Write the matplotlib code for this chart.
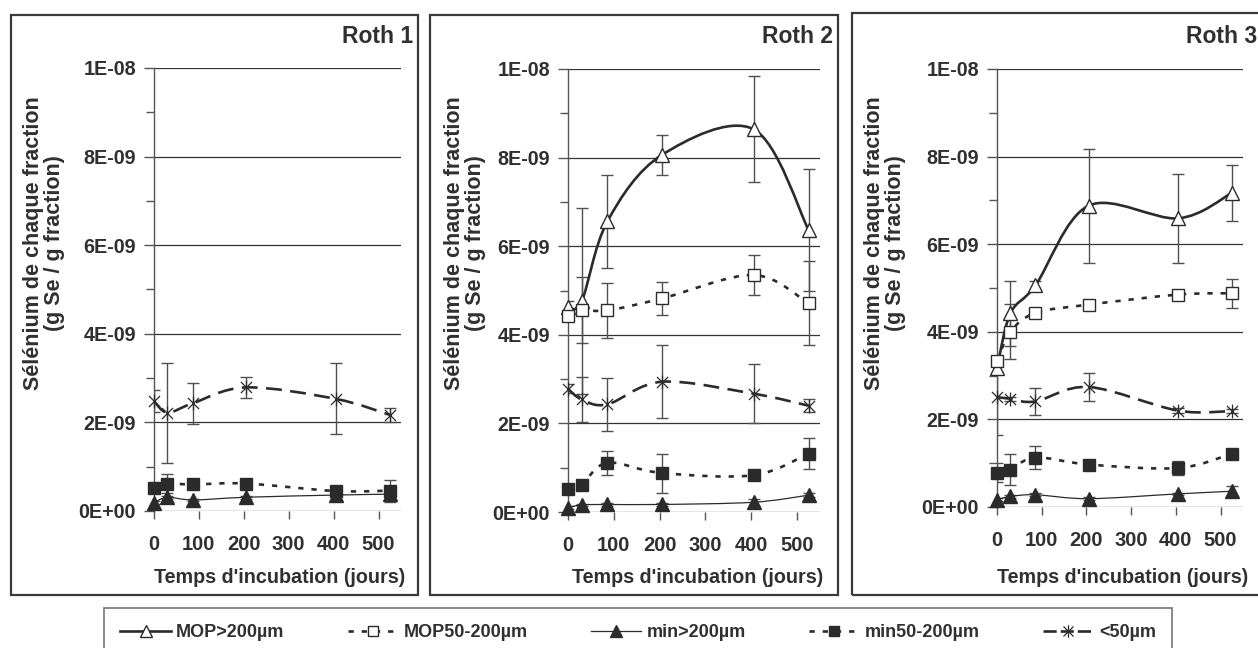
import numpy as np
import matplotlib
matplotlib.use("Agg")
import matplotlib.pyplot as plt
from matplotlib.path import Path
from matplotlib.patches import PathPatch, Rectangle
from matplotlib.lines import Line2D
from matplotlib.ticker import FixedLocator, FuncFormatter

plt.rcParams['font.family'] = ['Liberation Sans', 'DejaVu Sans']
plt.rcParams['font.weight'] = 'bold'

# ---------------- data (values in units of 1E-09 g Se / g fraction) ----------------
days = [0, 30, 86, 205, 405, 525]
panel_titles = ["Roth 1", "Roth 2", "Roth 3"]
series_names = ["MOP>200µm", "MOP50-200µm", "min>200µm", "min50-200µm", "<50µm"]
xtick_values = [0, 100, 200, 300, 400, 500]
ytick_values = [0, 2, 4, 6, 8, 10]

# Roth 1
r1_mop_gt200 = None
r1_mop_50_200 = None
r1_min_gt200 = [0.19, 0.31, 0.25, 0.31, 0.36, 0.38]
r1_min_gt200_err = [0.03, 0.03, 0.03, 0.03, 0.05, 0.05]
r1_min_50_200 = [0.53, 0.62, 0.60, 0.62, 0.45, 0.46]
r1_min_50_200_err = [0.05, 0.22, 0.05, 0.05, 0.05, 0.25]
r1_lt50 = [2.48, 2.22, 2.43, 2.79, 2.53, 2.17]
r1_lt50_err = [0.25, 1.13, 0.47, 0.23, 0.80, 0.15]

# Roth 2
r2_mop_gt200 = [4.62, 4.76, 6.56, 8.06, 8.64, 6.37]
r2_mop_gt200_err = [0.15, 2.10, 1.05, 0.46, 1.20, 1.38]
r2_mop_50_200 = [4.43, 4.56, 4.55, 4.82, 5.35, 4.71]
r2_mop_50_200_err = [0.10, 0.75, 0.63, 0.38, 0.45, 0.95]
r2_min_gt200 = [0.10, 0.16, 0.17, 0.17, 0.22, 0.38]
r2_min_gt200_err = [0.03, 0.03, 0.03, 0.03, 0.08, 0.05]
r2_min_50_200 = [0.52, 0.62, 1.11, 0.88, 0.83, 1.32]
r2_min_50_200_err = [0.05, 0.05, 0.27, 0.44, 0.05, 0.36]
r2_lt50 = [2.78, 2.54, 2.43, 2.94, 2.67, 2.40]
r2_lt50_err = [0.10, 0.50, 0.60, 0.82, 0.67, 0.15]

# Roth 3
r3_mop_gt200 = [3.18, 4.42, 5.06, 6.88, 6.59, 7.17]
r3_mop_gt200_err = [0.10, 0.74, 0.10, 1.30, 1.02, 0.63]
r3_mop_50_200 = [3.33, 4.00, 4.43, 4.62, 4.85, 4.88]
r3_mop_50_200_err = [0.10, 0.63, 0.10, 0.10, 0.10, 0.33]
r3_min_gt200 = [0.17, 0.24, 0.28, 0.19, 0.30, 0.36]
r3_min_gt200_err = [0.03, 0.03, 0.03, 0.03, 0.03, 0.12]
r3_min_50_200 = [0.78, 0.85, 1.13, 0.97, 0.89, 1.22]
r3_min_50_200_err = [0.22, 0.35, 0.27, 0.05, 0.17, 0.05]
r3_lt50 = [2.51, 2.47, 2.41, 2.74, 2.20, 2.19]
r3_lt50_err = [0.87, 0.05, 0.30, 0.32, 0.05, 0.05]

panels = [
    [(r1_mop_gt200, None), (r1_mop_50_200, None), (r1_min_gt200, r1_min_gt200_err),
     (r1_min_50_200, r1_min_50_200_err), (r1_lt50, r1_lt50_err)],
    [(r2_mop_gt200, r2_mop_gt200_err), (r2_mop_50_200, r2_mop_50_200_err), (r2_min_gt200, r2_min_gt200_err),
     (r2_min_50_200, r2_min_50_200_err), (r2_lt50, r2_lt50_err)],
    [(r3_mop_gt200, r3_mop_gt200_err), (r3_mop_50_200, r3_mop_50_200_err), (r3_min_gt200, r3_min_gt200_err),
     (r3_min_50_200, r3_min_50_200_err), (r3_lt50, r3_lt50_err)],
]

# ---------------- styles ----------------
W, H = 1258, 648
INK = '#2b2b2b'
TXT = '#303030'
SCALE = 1e-9

star = Path([(-1, -1), (1, 1), (-1, 1), (1, -1), (0, -1.25), (0, 1.25)],
            [Path.MOVETO, Path.LINETO, Path.MOVETO, Path.LINETO, Path.MOVETO, Path.LINETO])

styles = [
    dict(lw=1.9, ls='-', marker='^', ms=10, mfc='white', mec=INK, mew=1.0),
    dict(lw=1.9, ls=(0, (2.0, 3.0)), marker='s', ms=8.5, mfc='white', mec=INK, mew=1.0),
    dict(lw=0.9, ls='-', marker='^', ms=10, mfc=INK, mec=INK, mew=1.0),
    dict(lw=1.9, ls=(0, (2.0, 3.0)), marker='s', ms=8.5, mfc=INK, mec=INK, mew=1.0),
    dict(lw=1.9, ls=(0, (6.0, 3.2)), marker=star, ms=10, mfc='none', mec=INK, mew=0.9),
]
legend_ls = ['-', (0, (2.0, 3.0)), '-', (0, (2.0, 3.0)), (0, (5.0, 1.5))]


def smooth_path(xs, ys):
    """Cubic Bezier path through the points (Catmull-Rom style smoothing)."""
    n = len(xs)
    verts = [(xs[0], ys[0])]
    codes = [Path.MOVETO]
    for i in range(n - 1):
        p0 = (xs[max(i - 1, 0)], ys[max(i - 1, 0)])
        p1 = (xs[i], ys[i])
        p2 = (xs[i + 1], ys[i + 1])
        p3 = (xs[min(i + 2, n - 1)], ys[min(i + 2, n - 1)])
        c1 = (p1[0] + (p2[0] - p0[0]) / 6.0, p1[1] + (p2[1] - p0[1]) / 6.0)
        c2 = (p2[0] - (p3[0] - p1[0]) / 6.0, p2[1] - (p3[1] - p1[1]) / 6.0)
        verts += [c1, c2, p2]
        codes += [Path.CURVE4] * 3
    return Path(verts, codes)


fig = plt.figure(figsize=(W / 100, H / 100), dpi=100)

# panel frames (pixel boxes)
frames = [(11, 15, 418, 595), (430, 15, 838, 595), (852, 13, 1266, 595)]
# axes boxes (left, top, right, bottom) in pixels
axboxes = [(154, 68, 401, 511), (568, 69, 820, 512), (997, 69, 1243, 507)]
ylabel_x = [44, 465, 885]
title_right = [413, 833, 1257]
xlabel_right = [405, 823, 1248]

for p in range(3):
    x0, y0, x1, y1 = frames[p]
    fig.add_artist(Rectangle((x0 / W, 1 - y1 / H), (x1 - x0) / W, (y1 - y0) / H,
                             transform=fig.transFigure, fill=False, ec='#3a3a3a', lw=1.6))
    l, t, r, b = axboxes[p]
    ax = fig.add_axes([l / W, 1 - b / H, (r - l) / W, (b - t) / H])
    ax.set_xlim(0, 550)
    ax.set_ylim(0, 10 * SCALE)
    for s in ['top', 'right', 'bottom']:
        ax.spines[s].set_visible(False)
    ax.spines['left'].set_color('#555555')
    ax.spines['left'].set_linewidth(1.0)
    ax.yaxis.set_major_locator(FixedLocator([v * SCALE for v in ytick_values]))
    ax.yaxis.set_minor_locator(FixedLocator([v * SCALE for v in [1, 3, 5, 7, 9]]))
    ax.yaxis.set_major_formatter(FuncFormatter(lambda v, pos: f"{v:.0E}"))
    ax.xaxis.set_major_locator(FixedLocator(xtick_values))
    ax.tick_params(axis='y', which='major', length=7, width=1, color='#555555',
                   labelsize=14.2, labelcolor=TXT, pad=6)
    ax.tick_params(axis='y', which='minor', length=6, width=1, color='#555555')
    ax.tick_params(axis='x', which='major', length=6, width=1, color='#555555',
                   labelsize=14.5, labelcolor=TXT, pad=11)
    for lab in ax.get_xticklabels() + ax.get_yticklabels():
        lab.set_fontweight('bold')
    for v in ytick_values:
        ax.axhline(v * SCALE, color='#333333', lw=0.9, zorder=1)

    for k, (vals, errs) in enumerate(panels[p]):
        if vals is None:
            continue
        st = styles[k]
        yv = [v * SCALE for v in vals]
        if errs is not None:
            ax.errorbar(days, yv, yerr=[e * SCALE for e in errs], fmt='none',
                        ecolor='#505050', elinewidth=1.0, capsize=4, capthick=1.0, zorder=2)
        patch = PathPatch(smooth_path(days, yv), fill=False, ec=INK, lw=st['lw'],
                          ls=st['ls'], capstyle='butt', zorder=3)
        ax.add_patch(patch)
        ax.plot(days, yv, ls='none', marker=st['marker'], ms=st['ms'], mfc=st['mfc'],
                mec=st['mec'], mew=st['mew'], zorder=4, clip_on=False)

    fig.text(title_right[p] / W, 1 - 43 / H, panel_titles[p], ha='right', va='baseline',
             fontsize=16.5, fontweight='bold', color=TXT)
    fig.text(xlabel_right[p] / W, 1 - 583 / H, "Temps d'incubation (jours)", ha='right',
             va='baseline', fontsize=14.2, fontweight='bold', color=TXT)
    fig.text(ylabel_x[p] / W, 1 - 243 / H, "Sélénium de chaque fraction\n(g Se / g fraction)",
             rotation=90, ha='center', va='center', fontsize=15.5, fontweight='bold',
             color=TXT, linespacing=1.05, multialignment='center')

handles = []
for k, st in enumerate(styles):
    handles.append(Line2D([], [], color=INK, lw=st['lw'], ls=legend_ls[k], marker=st['marker'],
                          ms=st['ms'] * 0.9, mfc=st['mfc'], mec=st['mec'], mew=st['mew']))
leg = fig.legend(handles, series_names, loc='upper left', ncol=5, mode='expand',
                 bbox_to_anchor=(104 / W, 1 - 608 / H, (1172 - 104) / W, 0.0),
                 borderaxespad=0, frameon=True, fancybox=False, edgecolor='#555555',
                 handlelength=2.8, handletextpad=0.3, borderpad=0.9,
                 prop={'weight': 'bold', 'size': 13})
leg.get_frame().set_linewidth(1.2)
for t in leg.get_texts():
    t.set_color(TXT)

fig.savefig('out.png', dpi=100)
